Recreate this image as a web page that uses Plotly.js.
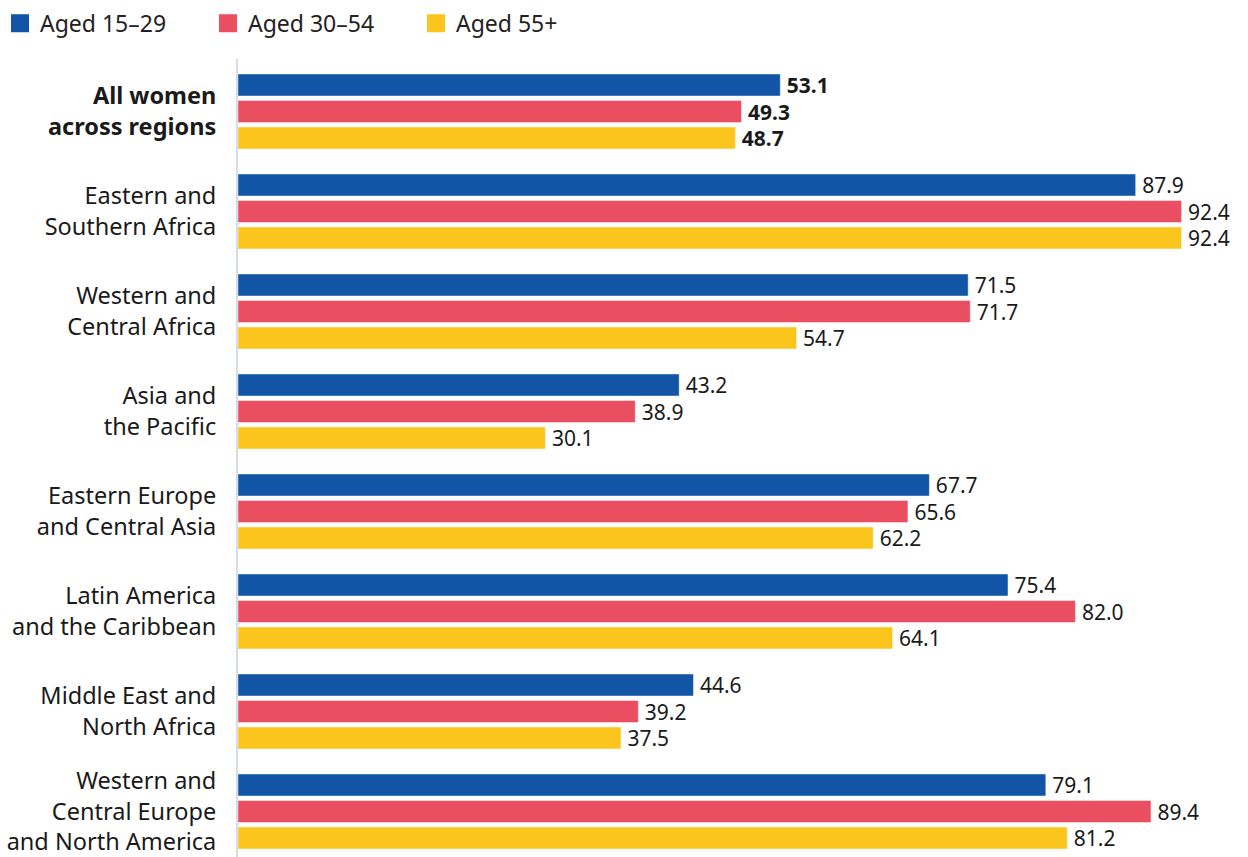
<!DOCTYPE html>
<html>
<head>
<meta charset="utf-8">
<script src="https://cdn.plot.ly/plotly-3.0.1.min.js"></script>
<style>
html,body{margin:0;padding:0;background:#fff;}
#chart{width:1248px;height:857px;}
</style>
</head>
<body>
<div id="chart"></div>
<script>
const categories = [
  "<b>All women</b><br><b>across regions</b>",
  "Eastern and<br>Southern Africa",
  "Western and<br>Central Africa",
  "Asia and<br>the Pacific",
  "Eastern Europe<br>and Central Asia",
  "Latin America<br>and the Caribbean",
  "Middle East and<br>North Africa",
  "Western and<br>Central Europe<br>and North America"
];
const seriesNames = ["Aged 15\u201329", "Aged 30\u201354", "Aged 55+"];
const aged15to29 = [53.1, 87.9, 71.5, 43.2, 67.7, 75.4, 44.6, 79.1];
const aged30to54 = [49.3, 92.4, 71.7, 38.9, 65.6, 82.0, 39.2, 89.4];
const aged55plus = [48.7, 92.4, 54.7, 30.1, 62.2, 64.1, 37.5, 81.2];
const colors = ["#1254a6", "#e94e61", "#fbc51d"];

const seriesValues = [aged15to29, aged30to54, aged55plus];
const textColor = "#1a1a1a";

function labels(vals) {
  return vals.map((v, i) => {
    const s = v.toFixed(1);
    return "\u2009" + (i === 0 ? "<b>" + s + "</b>" : s);
  });
}

const traces = [];
seriesValues.forEach((vals, k) => {
  traces.push({
    type: "bar",
    orientation: "h",
    x: vals,
    y: categories,
    name: seriesNames[k],
    showlegend: false,
    marker: {color: colors[k], line: {color: "rgba(255,255,255,0.45)", width: 1}},
    text: labels(vals),
    textposition: "outside",
    constraintext: "none",
    cliponaxis: false,
    textfont: {family: "Noto Sans, sans-serif", size: 21, color: textColor},
    hoverinfo: "skip"
  });
});
// legend entries (square swatches)
seriesNames.forEach((n, k) => {
  traces.push({
    type: "scatter",
    mode: "markers",
    x: [null],
    y: [null],
    name: n,
    showlegend: true,
    marker: {symbol: "square", size: 16, color: colors[k], line: {color: colors[k], width: 2}},
    hoverinfo: "skip"
  });
});

const layout = {
  width: 1248,
  height: 857,
  margin: {l: 238, r: 0, t: 59, b: 0, pad: 0},
  paper_bgcolor: "#ffffff",
  plot_bgcolor: "#ffffff",
  barmode: "group",
  bargap: 0.205,
  bargroupgap: 0.17,
  font: {family: "Noto Sans, sans-serif", color: textColor},
  showlegend: true,
  legend: {
    orientation: "h",
    xref: "paper", yref: "container",
    x: -0.2396, y: 0.998, xanchor: "left", yanchor: "top",
    font: {family: "Noto Sans, sans-serif", size: 23, color: "#222"},
    entrywidth: 163,
    entrywidthmode: "pixels",
    bgcolor: "rgba(0,0,0,0)",
    itemclick: false, itemdoubleclick: false
  },
  xaxis: {
    range: [0, 98.9],
    showgrid: false, zeroline: false, showline: false,
    showticklabels: false, ticks: "", fixedrange: true
  },
  yaxis: {
    type: "category",
    range: [7.455, -0.525],
    showgrid: false, zeroline: false,
    showline: true, linecolor: "#d5dee8", linewidth: 2,
    ticks: "", ticklabelstandoff: 15,
    tickfont: {family: "Noto Sans, sans-serif", size: 23.5, color: textColor},
    fixedrange: true
  }
};

Plotly.newPlot("chart", traces, layout, {displayModeBar: false, staticPlot: true});
</script>
</body>
</html>
